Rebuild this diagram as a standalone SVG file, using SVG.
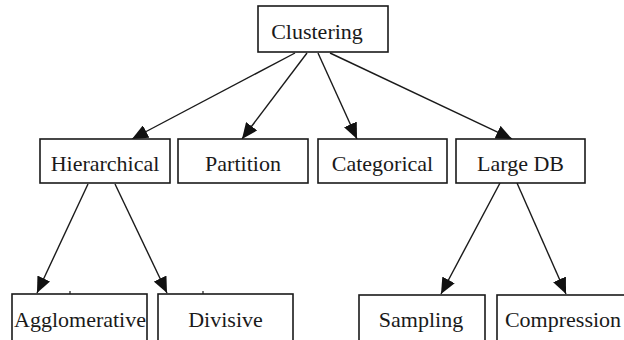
<svg xmlns="http://www.w3.org/2000/svg" width="624" height="340" viewBox="0 0 624 340">
<style>
.box{fill:#fff;stroke:#1a1a1a;stroke-width:1.6}
.lbl{font-family:'Liberation Serif',serif;font-size:22px;fill:#1a1a1a;text-anchor:middle}
.edge{stroke:#1a1a1a;stroke-width:1.4;fill:none;marker-end:url(#ah)}
</style>
<defs>
<marker id="ah" markerUnits="userSpaceOnUse" markerWidth="16" markerHeight="14" viewBox="0 0 16 14" refX="16" refY="7" orient="auto">
<path d="M0,0 L16,7 L0,14 z" fill="#111"/>
</marker>
</defs>
<rect width="624" height="340" fill="#fff"/>
<g id="connectors">
<line class="edge" x1="295" y1="53" x2="132" y2="139"/>
<line class="edge" x1="307" y1="53" x2="242" y2="139"/>
<line class="edge" x1="318" y1="53" x2="357" y2="139"/>
<line class="edge" x1="330" y1="53" x2="512" y2="139"/>
<line class="edge" x1="88" y1="184" x2="37" y2="293"/>
<line class="edge" x1="115" y1="184" x2="167" y2="293"/>
<line class="edge" x1="500" y1="183" x2="441" y2="294"/>
<line class="edge" x1="517" y1="183" x2="566" y2="294"/>
</g>
<g id="clustering"><rect class="box" x="258" y="6" width="130" height="46"/><text class="lbl" font-family="Liberation Serif" x="317" y="39">Clustering</text></g>
<g id="hierarchical"><rect class="box" x="40" y="139" width="130" height="44"/><text class="lbl" font-family="Liberation Serif" x="105" y="171">Hierarchical</text></g>
<g id="partition"><rect class="box" x="178" y="139" width="130" height="44"/><text class="lbl" font-family="Liberation Serif" x="243" y="171">Partition</text></g>
<g id="categorical"><rect class="box" x="318" y="139" width="129" height="44"/><text class="lbl" font-family="Liberation Serif" x="382.5" y="171">Categorical</text></g>
<g id="largedb"><rect class="box" x="456" y="139" width="129" height="44"/><text class="lbl" font-family="Liberation Serif" x="520.5" y="171">Large DB</text></g>
<g id="agglomerative"><rect class="box" x="12" y="294" width="135" height="60"/><line x1="70" y1="291" x2="70" y2="294" stroke="#1a1a1a" stroke-width="1.2"/><text class="lbl" font-family="Liberation Serif" x="80" y="327">Agglomerative</text></g>
<g id="divisive"><rect class="box" x="158" y="294" width="135" height="60"/><line x1="203" y1="291" x2="203" y2="294" stroke="#1a1a1a" stroke-width="1.2"/><text class="lbl" font-family="Liberation Serif" x="225.5" y="327">Divisive</text></g>
<g id="sampling"><rect class="box" x="359" y="295" width="126" height="60"/><text class="lbl" font-family="Liberation Serif" x="421" y="327">Sampling</text></g>
<g id="compression"><rect class="box" x="497" y="295" width="140" height="60"/><text class="lbl" font-family="Liberation Serif" x="563" y="327">Compression</text></g>
</svg>
